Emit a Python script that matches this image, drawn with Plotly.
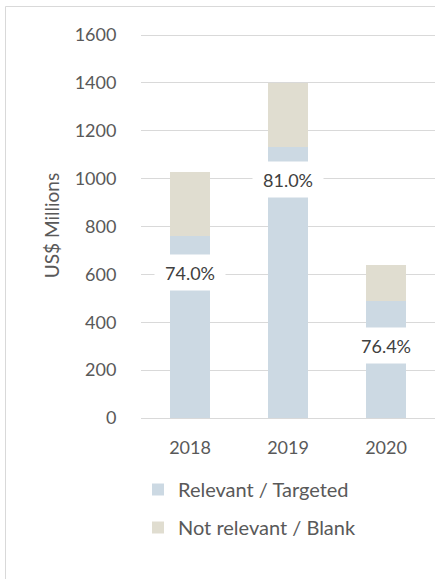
import plotly.graph_objects as go

years = ["2018", "2019", "2020"]
relevant = [760, 1133, 488]
not_relevant = [269, 268, 151]
pct_labels = ["74.0%", "81.0%", "76.4%"]
label_y = [606, 998, 302]
y_ticks = [0, 200, 400, 600, 800, 1000, 1200, 1400, 1600]

FONT = "Lato"
TICK_COL = "#595959"
GRID = "#d9d9d9"

fig = go.Figure()
fig.add_trace(go.Bar(x=years, y=relevant, name="Relevant / Targeted",
                     marker=dict(color="#CCD9E3", line=dict(width=0)),
                     legendgroup="a"))
fig.add_trace(go.Bar(x=years, y=not_relevant, name="Not relevant / Blank",
                     marker=dict(color="#E0DDD0", line=dict(width=0)),
                     legendgroup="b"))

# percentage labels (category index used as x position on the category axis)
for i, (txt, ly) in enumerate(zip(pct_labels, label_y)):
    fig.add_annotation(x=i, y=ly, xref="x", yref="y", text=txt, showarrow=False,
                       bgcolor="white", width=70, height=35, borderpad=0,
                       font=dict(family=FONT, size=18, color="#404040"))

W, H = 435, 579
L, R, T, B = 141, 0, 33, 161
pw, ph = W - L - R, H - T - B
PX_PER_UNIT = 383 / 1600
y_top = 1600 + 2 / PX_PER_UNIT

def px_to_paper_x(p):
    return (p - L) / pw

def px_to_paper_y(p):
    return (H - B - p) / ph

# outer chart border (cropped frame)
fig.add_shape(type="line", xref="paper", yref="paper",
              x0=px_to_paper_x(5.5), x1=px_to_paper_x(5.5),
              y0=px_to_paper_y(6.5), y1=px_to_paper_y(585),
              line=dict(color=GRID, width=1))
fig.add_shape(type="line", xref="paper", yref="paper",
              x0=px_to_paper_x(5.5), x1=px_to_paper_x(445),
              y0=px_to_paper_y(6.5), y1=px_to_paper_y(6.5),
              line=dict(color=GRID, width=1))

fig.update_layout(
    width=W, height=H,
    margin=dict(l=L, r=R, t=T, b=B, autoexpand=False),
    barmode="stack", bargap=0.592,
    plot_bgcolor="white", paper_bgcolor="white",
    font=dict(family=FONT, size=18, color=TICK_COL),
    showlegend=True,
    legend=dict(x=px_to_paper_x(138), y=px_to_paper_y(470), xanchor="left", yanchor="top",
                traceorder="grouped", tracegroupgap=9,
                font=dict(family=FONT, size=20, color=TICK_COL),
                bgcolor="rgba(0,0,0,0)"),
    xaxis=dict(type="category", range=[-0.5, 2.5], showgrid=False, showline=True,
               linecolor=GRID, linewidth=1,
               ticks="outside", ticklen=13, tickcolor="rgba(0,0,0,0)",
               tickfont=dict(family=FONT, size=18, color=TICK_COL)),
    yaxis=dict(range=[0, y_top], tickvals=y_ticks, showgrid=True, gridcolor=GRID,
               gridwidth=1, zeroline=False, showline=False,
               ticks="outside", ticklen=20, tickcolor="rgba(0,0,0,0)",
               tickfont=dict(family=FONT, size=18, color=TICK_COL),
               title=dict(text="US$ Millions", standoff=9,
                          font=dict(family=FONT, size=19, color=TICK_COL))),
)

fig.write_html("out.html", config={"displayModeBar": False},
               post_script="document.body.style.margin='0';")
